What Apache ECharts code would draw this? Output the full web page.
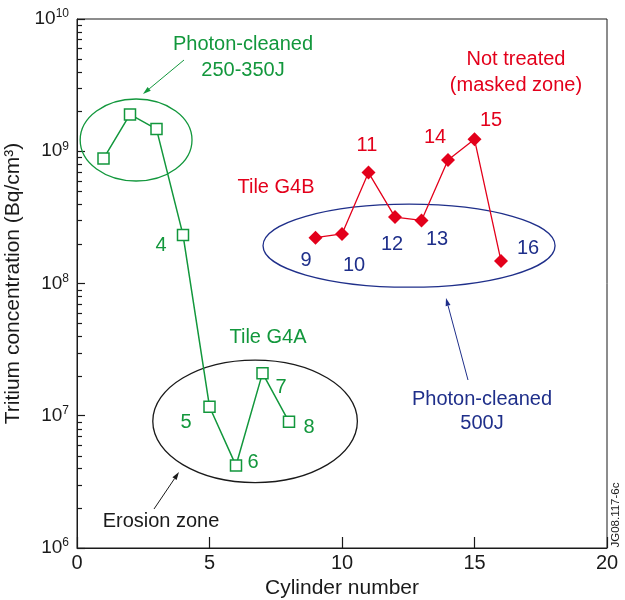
<!DOCTYPE html>
<html>
<head>
<meta charset="utf-8">
<script src="https://cdn.jsdelivr.net/npm/echarts@6/dist/echarts.min.js"></script>
<style>
  html, body { margin: 0; padding: 0; background: #fff; }
  #chart { width: 625px; height: 600px; }
</style>
</head>
<body>
<div id="chart"></div>
<script>
// tile G4A (cylinders 1-8), tile G4B (cylinders 9-16)
const g4aCyl = [1, 2, 3, 4, 5, 6, 7, 8];
const g4aVal = [8.8e8, 1.9e9, 1.47e9, 2.33e8, 1.17e7, 4.2e6, 2.1e7, 9.0e6];
const g4bCyl = [9, 10, 11, 12, 13, 14, 15, 16];
const g4bVal = [2.22e8, 2.37e8, 6.9e8, 3.18e8, 3.0e8, 8.6e8, 1.23e9, 1.48e8];
const xTicks = [0, 5, 10, 15, 20];
const yDecades = [6, 7, 8, 9, 10];

const GREEN = '#12973c';
const RED = '#e3001b';
const BLUE = '#1f2f8a';
const INK = '#1a1a1a';
const FONT = 'Liberation Sans';

const chart = echarts.init(document.getElementById('chart'));

const text = (x, y, s, color, size, extra) => Object.assign({
  type: 'text', x: x, y: y,
  style: { text: s, fill: color, font: (size || 20) + 'px "' + FONT + '"', align: 'center', verticalAlign: 'middle' }
}, extra || {});

const arrow = (x1, y1, x2, y2, color) => {
  const a = Math.atan2(y2 - y1, x2 - x1);
  const L = 8, W = 2.5;
  const bx = x2 - L * Math.cos(a), by = y2 - L * Math.sin(a);
  return [
    { type: 'line', shape: { x1: x1, y1: y1, x2: bx, y2: by }, style: { stroke: color, lineWidth: 1 } },
    { type: 'polygon', shape: { points: [[x2, y2],
      [bx + W * Math.sin(a), by - W * Math.cos(a)],
      [bx - W * Math.sin(a), by + W * Math.cos(a)]] }, style: { fill: color } }
  ];
};

// ellipse annotations in data space: [cx, log10 cy, rx, ry (decades), colour]
const ellipses = [
  [2.23, 9.085, 2.11, 0.31, GREEN],
  [6.72, 6.958, 3.86, 0.463, INK],
  [12.53, 8.286, 5.51, 0.314, BLUE]
];

chart.setOption({
  animation: false,
  textStyle: { fontFamily: FONT },
  grid: { left: 77, right: 18, top: 19, bottom: 52, containLabel: false, outerBoundsMode: 'none',
    show: true, borderColor: INK, borderWidth: 1 },
  xAxis: {
    type: 'value', min: 0, max: 20, interval: 5,
    name: 'Cylinder number', nameLocation: 'middle', nameGap: 23,
    nameTextStyle: { fontSize: 21, color: INK, fontFamily: FONT },
    axisLine: { lineStyle: { color: INK, width: 1 } },
    axisTick: { show: true, inside: true, length: 11, lineStyle: { color: INK, width: 1.2 } },
    axisLabel: { fontSize: 20, color: INK, margin: 5, fontFamily: FONT },
    splitLine: { show: false }
  },
  yAxis: {
    type: 'log', logBase: 10, min: 1e6, max: 1e10,
    name: 'Tritium concentration (Bq/cm\u00b3)', nameLocation: 'middle', nameGap: 45,
    nameTextStyle: { fontSize: 21, color: INK, fontFamily: FONT },
    axisLine: { lineStyle: { color: INK, width: 1 } },
    axisTick: { show: true, inside: true, length: 8, lineStyle: { color: INK, width: 1.2 } },
    axisLabel: {
      margin: 8, color: INK,
      formatter: v => '{b|10}{s|' + Math.round(Math.log10(v)) + '}',
      rich: {
        b: { fontSize: 19, fontFamily: FONT, color: INK },
        s: { fontSize: 12, fontFamily: FONT, color: INK, padding: [0, 0, 10, 0] }
      }
    },
    splitLine: { show: false }
  },
  series: [
    {
      type: 'custom', silent: true, z: 1,
      data: ellipses.map(e => [e[0], Math.pow(10, e[1])]),
      renderItem: (params, api) => {
        const e = ellipses[params.dataIndex];
        const c = api.coord([e[0], Math.pow(10, e[1])]);
        const r = api.coord([e[0] + e[2], Math.pow(10, e[1] + e[3])]);
        return { type: 'ellipse', shape: { cx: c[0], cy: c[1], rx: r[0] - c[0], ry: c[1] - r[1] },
          style: { stroke: e[4], fill: 'none', lineWidth: 1.3 } };
      }
    },
    {
      name: 'Tile G4A', type: 'line', z: 3,
      data: g4aCyl.map((c, i) => [c, g4aVal[i]]),
      symbol: 'rect', symbolSize: 11, showAllSymbol: true,
      lineStyle: { color: GREEN, width: 1.5 },
      itemStyle: { color: '#fff', borderColor: GREEN, borderWidth: 1.5 }
    },
    {
      name: 'Tile G4B', type: 'line', z: 3,
      data: g4bCyl.map((c, i) => [c, g4bVal[i]]),
      symbol: 'diamond', symbolSize: 14, showAllSymbol: true,
      lineStyle: { color: RED, width: 1.3 },
      itemStyle: { color: RED }
    }
  ]
});

// minor ticks of the log axis (2..9 per decade), placed through the axes
const minorTicks = [];
yDecades.slice(0, -1).forEach(d => {
  for (let m = 2; m <= 9; m++) {
    const q = chart.convertToPixel({ gridIndex: 0 }, [0, m * Math.pow(10, d)]);
    const y = Math.round(q[1]) + 0.5;
    minorTicks.push({ type: 'line', shape: { x1: q[0], y1: y, x2: q[0] + 5, y2: y },
      style: { stroke: INK, lineWidth: 1.2 } });
  }
});

chart.setOption({
  graphic: [
    ...minorTicks,
    text(243, 44, 'Photon-cleaned', GREEN),
    text(243, 70, '250-350J', GREEN),
    ...arrow(184, 60, 143, 94, GREEN),
    text(516, 59, 'Not treated', RED),
    text(516, 85, '(masked zone)', RED),
    text(276, 187, 'Tile G4B', RED),
    text(367, 145, '11', RED),
    text(435, 137, '14', RED),
    text(491, 120, '15', RED),
    text(306, 260, '9', BLUE),
    text(354, 265, '10', BLUE),
    text(392, 244, '12', BLUE),
    text(437, 239, '13', BLUE),
    text(528, 248, '16', BLUE),
    text(161, 245, '4', GREEN),
    text(186, 422, '5', GREEN),
    text(253, 462, '6', GREEN),
    text(281, 387, '7', GREEN),
    text(309, 427, '8', GREEN),
    text(268, 337, 'Tile G4A', GREEN),
    text(482, 399, 'Photon-cleaned', BLUE),
    text(482, 423, '500J', BLUE),
    ...arrow(468, 380, 446, 298, BLUE),
    text(161, 521, 'Erosion zone', INK),
    ...arrow(154, 509, 179, 472, INK),
    text(616, 515, 'JG08.117-6c', INK, 11.5, { rotation: Math.PI / 2 })
  ]
});
</script>
</body>
</html>
